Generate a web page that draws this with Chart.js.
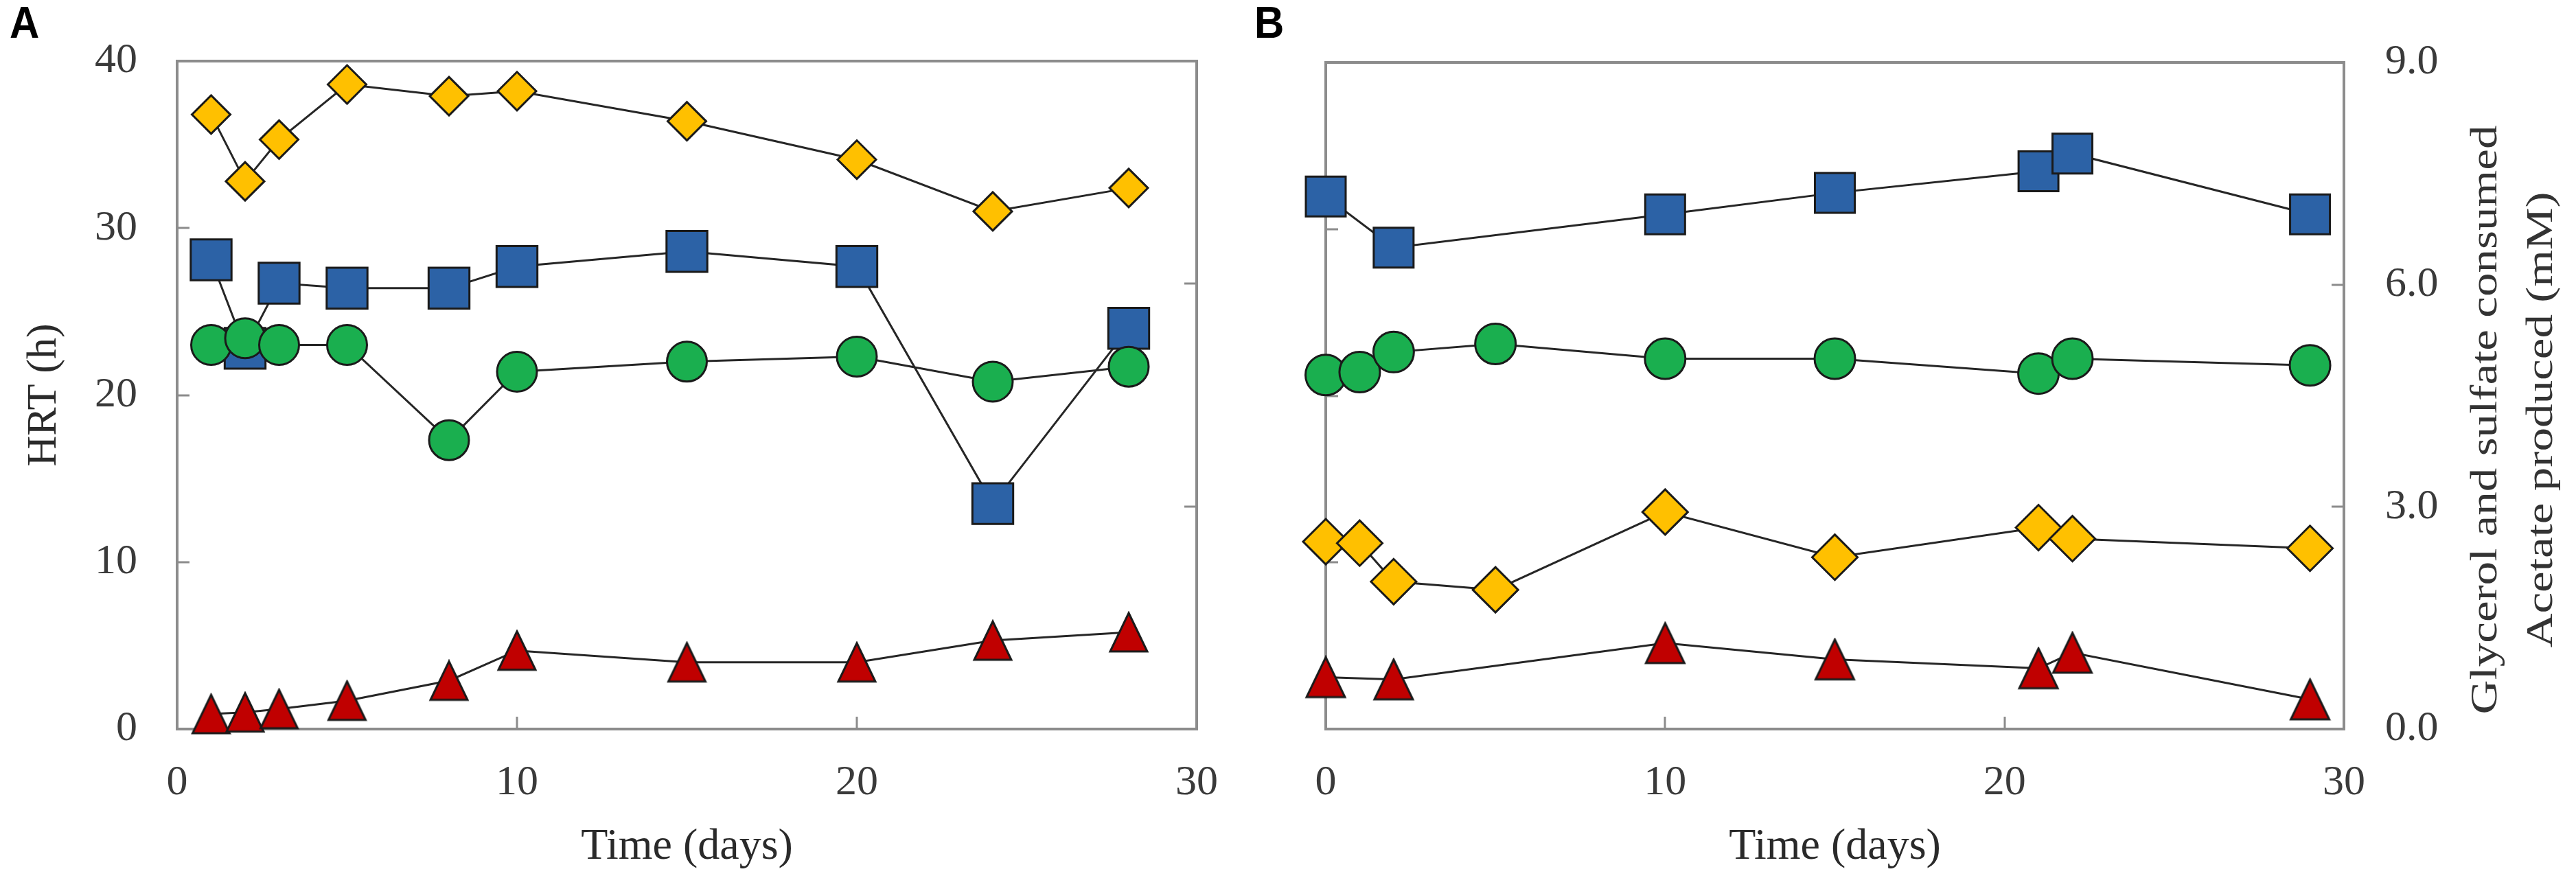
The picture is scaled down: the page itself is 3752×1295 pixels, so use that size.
<!DOCTYPE html>
<html><head><meta charset="utf-8">
<script src="https://cdn.jsdelivr.net/npm/chart.js@4.4.1/dist/chart.umd.min.js"></script>
<style>
html,body{margin:0;padding:0;background:#fff;width:3752px;height:1295px;overflow:hidden;}
canvas{position:absolute;left:0;top:0;}
</style></head><body>
<canvas id="cA" width="3752" height="1295"></canvas>
<canvas id="cB" width="3752" height="1295"></canvas>
<script>
// ---------- DATA ----------
// Panel A : HRT (h) vs time (days)
const daysA        = [1, 2, 3, 5, 8, 10, 15, 20, 24, 28];
const diamondA     = [36.8, 32.8, 35.3, 38.6, 37.9, 38.2, 36.4, 34.1, 31.0, 32.4];
const squareA      = [28.1, 22.8, 26.7, 26.4, 26.4, 27.7, 28.6, 27.7, 13.5, 24.0];
const circleA      = [23.0, 23.4, 23.0, 23.0, 17.3, 21.4, 22.0, 22.3, 20.8, 21.7];
const triangleA    = [0.9, 1.0, 1.2, 1.7, 2.9, 4.7, 4.0, 4.0, 5.3, 5.8];

// Panel B : glycerol / sulfate consumed, acetate produced (mM)
const daysBSquare  = [0, 2, 10, 15, 21, 22, 29];
const squareB      = [7.19, 6.50, 6.95, 7.24, 7.53, 7.77, 6.95];
const daysBCircle  = [0, 1, 2, 5, 10, 15, 21, 22, 29];
const circleB      = [4.78, 4.82, 5.09, 5.20, 5.00, 5.00, 4.80, 5.00, 4.91];
const daysBDiamond = [0, 1, 2, 5, 10, 15, 21, 22, 29];
const diamondB     = [2.53, 2.51, 1.99, 1.88, 2.93, 2.32, 2.72, 2.57, 2.44];
const daysBTri     = [0, 2, 10, 15, 21, 22, 29];
const triangleB    = [0.70, 0.67, 1.16, 0.94, 0.82, 1.03, 0.40];

// Ticks / labels
const xTicks   = [0, 10, 20, 30];
const hrtTicks = [0, 10, 20, 30, 40];
const mMTicks  = [0, 3, 6, 9];
const xTitle   = 'Time (days)';
const yTitleA  = 'HRT (h)';
const yTitleB  = ['Glycerol and sulfate consumed', 'Acetate produced (mM)'];

// ---------- STYLE ----------
const COL = {yellow:'#FFC000', blue:'#2C62A6', green:'#1AAF4F', red:'#C00000', edge:'#1a1a1a', line:'#262626'};
const SERIF = '"Liberation Serif", "Times New Roman", serif';
Chart.defaults.font.family = SERIF;
Chart.defaults.color = '#3a3a3a';

function triImg(w, h, fill){
  const lw = 3;
  const c = document.createElement('canvas');
  c.width = w + lw * 2; c.height = h + lw * 2;
  const g = c.getContext('2d');
  g.beginPath();
  g.moveTo(c.width / 2, lw);
  g.lineTo(c.width - lw, c.height - lw);
  g.lineTo(lw, c.height - lw);
  g.closePath();
  g.fillStyle = fill; g.fill();
  g.lineWidth = lw; g.strokeStyle = COL.edge; g.lineJoin = 'miter'; g.stroke();
  return c;
}

function series(xs, ys, axis, style, radius, fill, order){
  return {
    data: xs.map((x, i) => ({x: x, y: ys[i]})),
    yAxisID: axis,
    showLine: true, tension: 0,
    borderColor: COL.line, borderWidth: 3,
    pointStyle: style, pointRadius: radius, pointHoverRadius: radius,
    pointBackgroundColor: fill, pointBorderColor: COL.edge, pointBorderWidth: 3,
    pointHoverBorderWidth: 3,
    clip: false, order: order
  };
}

const framePlugin = {
  id: 'frame',
  beforeDatasetsDraw(chart){
    const {ctx, chartArea: a, scales} = chart;
    const TL = 18;
    ctx.save();
    ctx.strokeStyle = '#8c8c8c';
    ctx.lineWidth = 3;
    ctx.beginPath();
    scales.y.ticks.forEach(t => {
      if (t.value > scales.y.min && t.value < scales.y.max) {
        const p = Math.round(scales.y.getPixelForValue(t.value));
        ctx.moveTo(a.left, p); ctx.lineTo(a.left + TL, p);
      }
    });
    scales.y2.ticks.forEach(t => {
      if (t.value > scales.y2.min && t.value < scales.y2.max) {
        const p = Math.round(scales.y2.getPixelForValue(t.value));
        ctx.moveTo(a.right - TL, p); ctx.lineTo(a.right, p);
      }
    });
    scales.x.ticks.forEach(t => {
      if (t.value > scales.x.min && t.value < scales.x.max) {
        const p = Math.round(scales.x.getPixelForValue(t.value));
        ctx.moveTo(p, a.bottom); ctx.lineTo(p, a.bottom - TL);
      }
    });
    ctx.stroke();
    ctx.lineWidth = 4;
    ctx.strokeRect(a.left, a.top, a.right - a.left, a.bottom - a.top);
    ctx.restore();
  }
};

function letterPlugin(letter, x){
  return {
    id: 'letter' + letter,
    afterDraw(chart){
      const ctx = chart.ctx;
      ctx.save();
      ctx.font = 'bold 60px "Liberation Sans", Arial, sans-serif';
      ctx.fillStyle = '#000';
      ctx.textAlign = 'left'; ctx.textBaseline = 'alphabetic';
      ctx.translate(x, 55); ctx.scale(1, 1.08);
      ctx.fillText(letter, 0, 0);
      ctx.restore();
    }
  };
}

const rightTitlePlugin = {
  id: 'rightTitle',
  afterDraw(chart){
    const ctx = chart.ctx;
    const a = chart.chartArea;
    const cy = (a.top + a.bottom) / 2 + 35;
    const xs = [a.right + 208, a.right + 289];
    ctx.save();
    ctx.fillStyle = '#333';
    ctx.font = '54px ' + SERIF;
    ctx.textAlign = 'center'; ctx.textBaseline = 'middle';
    yTitleB.forEach((txt, i) => {
      ctx.save();
      ctx.translate(xs[i], cy);
      ctx.rotate(-Math.PI / 2);
      ctx.scale(1.28, 1);
      ctx.fillText(txt, 0, 0);
      ctx.restore();
    });
    ctx.restore();
  }
};

const tickFont = {size: 62, lineHeight: 1};
const titleFont = {size: 64};

function xScale(){
  return {
    type: 'linear', position: 'bottom', min: 0, max: 30,
    afterBuildTicks: s => { s.ticks = xTicks.map(v => ({value: v})); },
    grid: {display: false, drawTicks: false}, border: {display: false},
    ticks: {font: tickFont, padding: 48, color: '#3a3a3a', maxRotation: 0},
    title: {display: true, text: xTitle, font: titleFont, color: '#2a2a2a', padding: {top: 0, bottom: 22}},
    afterFit: s => { s.height = 233; }
  };
}

function baseOptions(scales, plugins){
  return {
    responsive: false, animation: false, devicePixelRatio: 1, events: [],
    layout: {padding: {top: 35, bottom: 0, left: 0, right: 0}},
    plugins: {legend: {display: false}, tooltip: {enabled: false}},
    scales: scales
  };
}

// ---------- PANEL A ----------
new Chart(document.getElementById('cA'), {
  type: 'line',
  data: {datasets: [
    series(daysA, circleA,   'y', 'circle',  29, COL.green,  0),
    series(daysA, squareA,   'y', 'rect',    42, COL.blue,   1),
    series(daysA, triangleA, 'y', triImg(54, 56, COL.red), 28, COL.red, 2),
    series(daysA, diamondA,  'y', 'rectRot', 28, COL.yellow, 3)
  ]},
  options: baseOptions({
    x: xScale(),
    y: {
      position: 'left', min: 0, max: 40,
      afterBuildTicks: s => { s.ticks = hrtTicks.map(v => ({value: v})); },
      grid: {display: false, drawTicks: false}, border: {display: false},
      ticks: {font: tickFont, padding: 58, color: '#3a3a3a'},
      title: {display: true, text: yTitleA, font: {size: 62}, color: '#2a2a2a', padding: {top: 28, bottom: 0}},
      afterFit: s => { s.width = 258; }
    },
    y2: {
      position: 'right', min: 0, max: 9,
      afterBuildTicks: s => { s.ticks = mMTicks.map(v => ({value: v})); },
      grid: {display: false, drawTicks: false}, border: {display: false},
      ticks: {display: false},
      afterFit: s => { s.width = 3752 - 1743; }
    }
  }),
  plugins: [framePlugin, letterPlugin('A', 14)]
});

// ---------- PANEL B ----------
new Chart(document.getElementById('cB'), {
  type: 'line',
  data: {datasets: [
    series(daysBCircle,  circleB,   'y2', 'circle',  29.5, COL.green,  0),
    series(daysBSquare,  squareB,   'y2', 'rect',    41,   COL.blue,   1),
    series(daysBTri,     triangleB, 'y2', triImg(56, 58, COL.red), 29, COL.red, 2),
    series(daysBDiamond, diamondB,  'y2', 'rectRot', 33,   COL.yellow, 3)
  ]},
  options: baseOptions({
    x: xScale(),
    y: {
      position: 'left', min: 0, max: 40,
      afterBuildTicks: s => { s.ticks = hrtTicks.map(v => ({value: v})); },
      grid: {display: false, drawTicks: false}, border: {display: false},
      ticks: {display: false},
      afterFit: s => { s.width = 1931; }
    },
    y2: {
      position: 'right', min: 0, max: 9,
      afterBuildTicks: s => { s.ticks = mMTicks.map(v => ({value: v})); },
      grid: {display: false, drawTicks: false}, border: {display: false},
      ticks: {font: tickFont, padding: 60, color: '#3a3a3a', callback: v => Number(v).toFixed(1)},
      afterFit: s => { s.width = 3752 - 3414; }
    }
  }),
  plugins: [framePlugin, letterPlugin('B', 1827), rightTitlePlugin]
});
</script>
</body></html>
